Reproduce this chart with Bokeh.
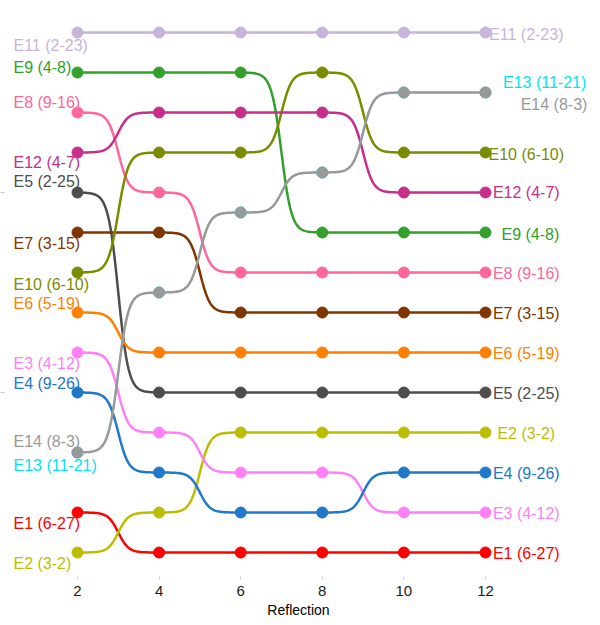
import numpy as np
from bokeh.plotting import figure
from bokeh.models import Range1d, FixedTicker, ColumnDataSource, LinearAxis
from bokeh.core.properties import value
from bokeh.embed import file_html
from bokeh.resources import INLINE

# ---- data ----
reflections = [2, 4, 6, 8, 10, 12]
series = ["E1", "E2", "E3", "E4", "E5", "E6", "E7", "E8", "E9", "E10", "E11", "E12", "E13", "E14"]
labels = ["E1 (6-27)", "E2 (3-2)", "E3 (4-12)", "E4 (9-26)", "E5 (2-25)", "E6 (5-19)",
          "E7 (3-15)", "E8 (9-16)", "E9 (4-8)", "E10 (6-10)", "E11 (2-23)", "E12 (4-7)",
          "E13 (11-21)", "E14 (8-3)"]
rank_E1 = [13, 14, 14, 14, 14, 14]
rank_E2 = [14, 13, 11, 11, 11, 11]
rank_E3 = [9, 11, 12, 12, 13, 13]
rank_E4 = [10, 12, 13, 13, 12, 12]
rank_E5 = [5, 10, 10, 10, 10, 10]
rank_E6 = [8, 9, 9, 9, 9, 9]
rank_E7 = [6, 6, 8, 8, 8, 8]
rank_E8 = [3, 5, 7, 7, 7, 7]
rank_E9 = [2, 2, 2, 6, 6, 6]
rank_E10 = [7, 4, 4, 2, 4, 4]
rank_E11 = [1, 1, 1, 1, 1, 1]
rank_E12 = [4, 3, 3, 3, 5, 5]
rank_E13 = [11.5, 7.5, 5.5, 4.5, 2.5, 2.5]
rank_E14 = [11.5, 7.5, 5.5, 4.5, 2.5, 2.5]
ranks = [rank_E1, rank_E2, rank_E3, rank_E4, rank_E5, rank_E6, rank_E7, rank_E8,
         rank_E9, rank_E10, rank_E11, rank_E12, rank_E13, rank_E14]

# ---- styles ----
colors = ["#FF0000", "#BDBD00", "#FF80F6", "#1F78C8", "#4D4D4D", "#FF7F00", "#7F3500",
          "#FF6699", "#33A02C", "#7A8B00", "#C8B4DA", "#C72E8A", "#00E5EE", "#999999"]
line_widths = [2.5] * 12 + [1.5, 2.5]
# label nudges (rank units, +down) and x nudges for right labels
left_dy = [0.27, 0.27, 0.27, -0.22, -0.27, -0.22, 0.27, -0.25, -0.12, 0.3, 0.32, 0.25, 0.33, -0.28]
right_dy = [0.03, 0.03, 0.03, 0.03, 0.03, 0.03, 0.03, 0.02, 0.05, 0.05, 0.05, 0.0, -0.25, 0.3]
right_dx = [0, 0, 0, 0, 0, 0, 0, 0, 0.1, 0, 0, 0, 0.45, 0.68]

FONT = "Liberation Sans"


def sigmoid_path(xs, ys, smooth=8, n=100):
    px, py = [], []
    t = np.linspace(-smooth, smooth, n)
    s = np.exp(t) / (np.exp(t) + 1)
    for i in range(len(xs) - 1):
        x0, x1 = xs[i], xs[i + 1]
        y0, y1 = ys[i], ys[i + 1]
        px.extend(list((t + smooth) / (2 * smooth) * (x1 - x0) + x0))
        py.extend(list(s * (y1 - y0) + y0))
    return px, py


x_lo = 0.211
x_hi = 14.623
p = figure(width=600, height=625, output_backend="svg", toolbar_location=None,
           x_range=Range1d(x_lo, x_hi), y_range=Range1d(14.6, 0.325),
           min_border_left=0, min_border_right=8, min_border_top=5, min_border_bottom=49,
           y_axis_location=None)
p.outline_line_color = None
p.xgrid.grid_line_color = None
p.ygrid.grid_line_color = None
p.background_fill_color = "white"
p.border_fill_color = "white"

# lines
for r, c, w in zip(ranks, colors, line_widths):
    px, py = sigmoid_path(reflections, r)
    p.line(px, py, line_color=c, line_width=w)

# points
for r, c in zip(ranks, colors):
    p.scatter(reflections, r, size=11, fill_color=c, line_color=c)

# left labels
left_src = ColumnDataSource(dict(
    x=[x_lo + 0.22] * len(series),
    y=[r[0] + d for r, d in zip(ranks, left_dy)],
    text=labels, color=colors))
p.text(x="x", y="y", text="text", text_color="color", source=left_src,
       text_font=value(FONT), text_font_size="16px", text_align="left", text_baseline="middle")

# right labels
right_src = ColumnDataSource(dict(
    x=[reflections[-1] + 1 + dx for dx in right_dx],
    y=[r[-1] + d for r, d in zip(ranks, right_dy)],
    text=labels, color=colors))
p.text(x="x", y="y", text="text", text_color="color", source=right_src,
       text_font=value(FONT), text_font_size="16px", text_align="center", text_baseline="middle")

# x axis
ax = p.xaxis[0]
ax.ticker = FixedTicker(ticks=reflections)
ax.axis_label = "Reflection"
ax.axis_label_text_font = FONT
ax.axis_label_text_font_size = "14px"
ax.axis_label_text_font_style = "normal"
ax.axis_label_text_color = "#000000"
ax.axis_label_standoff = 3
ax.major_label_text_font = FONT
ax.major_label_text_font_size = "15px"
ax.major_label_text_color = "#1a1a1a"
ax.major_label_standoff = 6
ax.axis_line_color = None
ax.major_tick_line_color = "#cccccc"
ax.major_tick_out = 3
ax.major_tick_in = 0
ax.minor_tick_line_color = None

# y axis ticks only
yax = LinearAxis(ticker=FixedTicker(ticks=[5, 10]))
yax.major_label_overrides = {5: "", 10: ""}
yax.major_label_standoff = 0
yax.axis_line_color = None
yax.major_tick_line_color = "#cccccc"
yax.major_tick_out = 4
yax.major_tick_in = 0
yax.minor_tick_line_color = None
p.add_layout(yax, "left")

open("out.html", "w").write(file_html(p, INLINE))
